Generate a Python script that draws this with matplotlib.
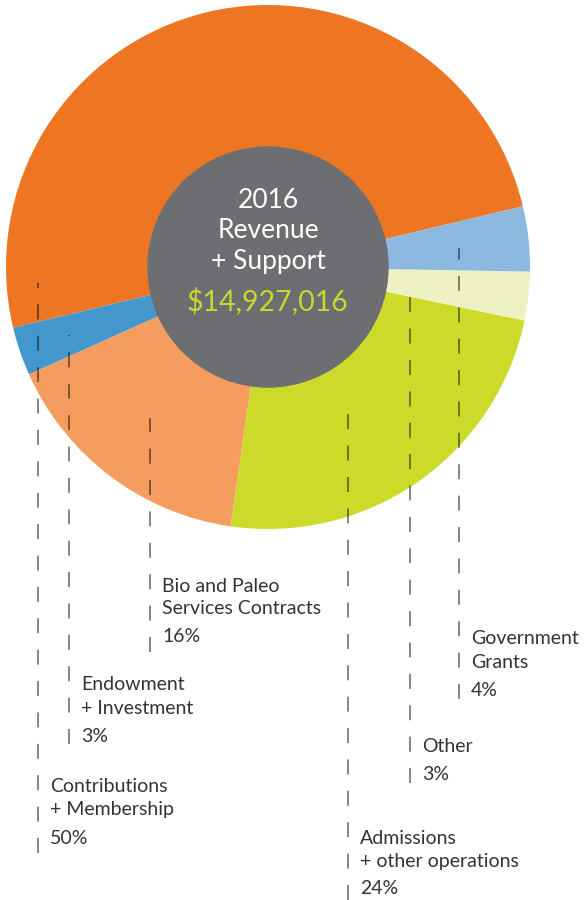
import matplotlib.pyplot as plt
from matplotlib.patches import Circle

plt.rcParams['font.family'] = ['Lato', 'DejaVu Sans']
plt.rcParams['lines.scale_dashes'] = False

# pie data, in drawing order (counter-clockwise from the orange slice)
categories = ['Contributions\n+ Membership', 'Endowment\n+ Investment',
              'Bio and Paleo\nServices Contracts', 'Admissions\n+ other operations',
              'Other', 'Government\nGrants']
values = [50, 3, 16, 24, 3, 4]
colors = ['#EE7623', '#4497CC', '#F59D5E', '#CCDB2A', '#EEF2C2', '#8DB8DF']

total_label = '$14,927,016'
title_lines = ['2016', 'Revenue', '+ Support']

H = 900  # figure height in px, used to flip y


def fy(y):
    return H - y


fig = plt.figure(figsize=(5.88, 9.0), dpi=100)
ax = fig.add_axes([0, 0, 1, 1])

ax.pie(values, colors=colors, startangle=13.4, counterclock=True,
       center=(268, fy(267)), radius=262, frame=True,
       wedgeprops={'linewidth': 0})

ax.add_patch(Circle((268, fy(267)), 120, color='#6D6E71', zorder=3))
for t, y in zip(title_lines, [201, 231, 262]):
    ax.text(268, fy(y), t, ha='center', va='center', color='white',
            fontsize=19, zorder=4)
ax.text(268, fy(301), total_label, ha='center', va='center', color='#C9D72E',
        fontsize=20.5, zorder=4)

# leader lines: x, top y, bottom y, text y positions
leaders = [
    (38, 283, 853, (787, 810, 839)),
    (69, 335, 744, (685, 708, 737)),
    (150, 418, 652, (586, 609, 637)),
    (348, 400, 900, (838, 861, 889)),
    (410, 285, 783, (746, None, 775)),
    (459, 248, 699, (639, 663, 690)),
]

for (x, y0, y1, ys), name, v in zip(leaders, categories, values):
    ax.plot([x, x], [fy(y1), fy(y0)], color='black', alpha=0.6, linewidth=1.1,
            linestyle=(0, (10.8, 11.8)), zorder=5)
    parts = name.split('\n')
    ax.text(x + 12, fy(ys[0]), parts[0], va='center', ha='left',
            fontsize=14, color='#333333')
    if ys[1] is not None:
        ax.text(x + 12, fy(ys[1]), parts[1], va='center', ha='left',
                fontsize=14, color='#333333')
    ax.text(x + 12, fy(ys[2]), f'{v}%', va='center', ha='left',
            fontsize=14, color='#333333')

ax.set_xlim(0, 588)
ax.set_ylim(0, 900)
ax.set_aspect('equal')
ax.axis('off')

fig.savefig('out.png', dpi=100)
